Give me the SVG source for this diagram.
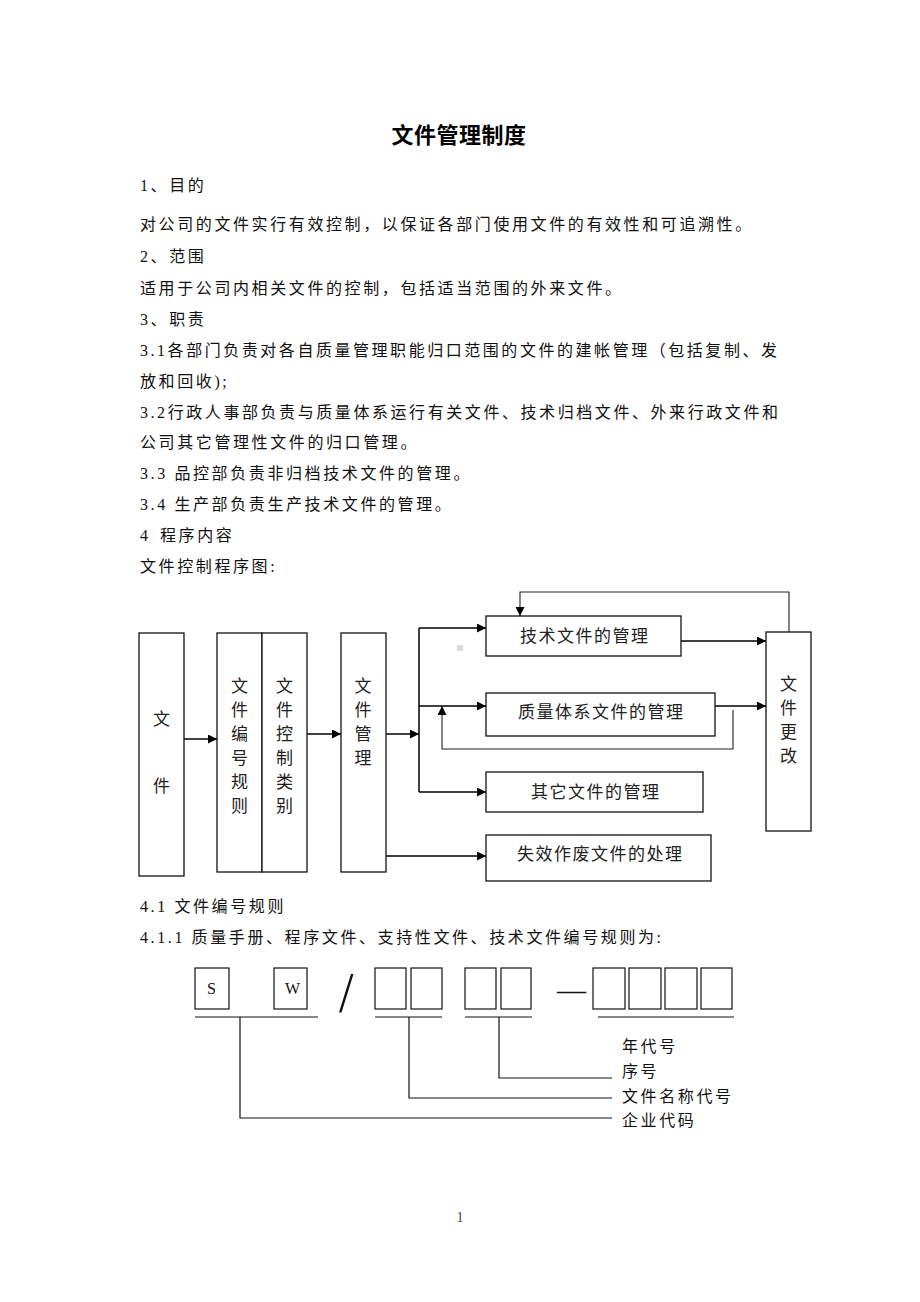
<svg xmlns="http://www.w3.org/2000/svg" width="920" height="1302" viewBox="0 0 920 1302">
<style>
.t{font-family:"Liberation Serif","Noto Sans CJK SC",serif;font-size:16px;letter-spacing:2.6px;fill:#111}
.j{font-family:"Liberation Serif","Noto Sans CJK SC",serif;font-size:16px;fill:#111}
.title{font-family:"Noto Sans CJK SC",sans-serif;font-size:22px;font-weight:bold;letter-spacing:0.5px;fill:#000}
.bt{font-family:"Noto Sans CJK SC",sans-serif;font-size:17px;letter-spacing:1.5px;fill:#222}
.vt{font-family:"Noto Sans CJK SC",sans-serif;font-size:17px;fill:#222;text-anchor:middle}
.box{fill:#fff;stroke:#111;stroke-width:1.3}
.cb{fill:none;stroke:#111;stroke-width:1.2}
.ln{fill:none;stroke:#000;stroke-width:1.5}
.th{fill:none;stroke:#222;stroke-width:1.1}
.lat{font-family:"Liberation Serif",serif;font-size:16px;fill:#111}
</style>
<defs>
<marker id="ah" viewBox="0 0 10 10" refX="10" refY="5" markerWidth="9" markerHeight="9" markerUnits="userSpaceOnUse" orient="auto">
<path d="M0,0 L10,5 L0,10 z" fill="#000"/>
</marker>
</defs>
<rect width="920" height="1302" fill="#fff"/>

<g id="text-body">
<text class="title" x="459" y="143" text-anchor="middle">文件管理制度</text>
<text class="t" x="140" y="191">1、目的</text>
<text class="t" x="140" y="230">对公司的文件实行有效控制，以保证各部门使用文件的有效性和可追溯性。</text>
<text class="t" x="140" y="262">2、范围</text>
<text class="t" x="140" y="294">适用于公司内相关文件的控制，包括适当范围的外来文件。</text>
<text class="t" x="140" y="325">3、职责</text>
<text class="j" x="140" y="356" textLength="637" lengthAdjust="spacing">3.1各部门负责对各自质量管理职能归口范围的文件的建帐管理（包括复制、发</text>
<text class="t" x="140" y="387">放和回收);</text>
<text class="j" x="140" y="418" textLength="638" lengthAdjust="spacing">3.2行政人事部负责与质量体系运行有关文件、技术归档文件、外来行政文件和</text>
<text class="t" x="140" y="448">公司其它管理性文件的归口管理。</text>
<text class="t" x="140" y="479">3.3 品控部负责非归档技术文件的管理。</text>
<text class="t" x="140" y="510">3.4 生产部负责生产技术文件的管理。</text>
<text class="t" x="140" y="541">4<tspan x="160">程序内容</tspan></text>
<text class="t" x="140" y="572">文件控制程序图:</text>
<text class="t" x="140" y="912">4.1 文件编号规则</text>
<text class="t" x="140" y="943">4.1.1 质量手册、程序文件、支持性文件、技术文件编号规则为:</text>
<text x="460" y="1222" font-family="Liberation Serif, serif" font-size="14" fill="#444" text-anchor="middle">1</text>
</g>

<g id="connectors">
<line class="ln" x1="184" y1="739" x2="217" y2="739" marker-end="url(#ah)"/>
<line class="ln" x1="307" y1="734" x2="341" y2="734" marker-end="url(#ah)"/>
<line class="ln" x1="386" y1="734" x2="419" y2="734" marker-end="url(#ah)"/>
<line class="ln" x1="419" y1="628" x2="419" y2="792"/>
<line class="ln" x1="419" y1="628" x2="486" y2="628" marker-end="url(#ah)"/>
<line class="ln" x1="419" y1="706" x2="486" y2="706" marker-end="url(#ah)"/>
<line class="ln" x1="419" y1="792" x2="486" y2="792" marker-end="url(#ah)"/>
<line class="ln" x1="386" y1="856" x2="486" y2="856" marker-end="url(#ah)"/>
<line class="ln" x1="677" y1="641" x2="766" y2="641" marker-end="url(#ah)"/>
<line class="ln" x1="710" y1="706" x2="766" y2="706" marker-end="url(#ah)"/>
<polyline class="th" points="733,710 733,749 442,749 442,706" marker-end="url(#ah)"/>
<polyline class="th" points="789,632 789,592 520,592 520,616" marker-end="url(#ah)"/>
<rect x="457" y="645" width="6" height="6" fill="#ddd"/>
</g>

<g id="node-wenjian">
<rect class="box" x="139" y="633" width="45" height="243"/>
<text class="vt" x="161.5" y="724.5">文</text>
<text class="vt" x="161.5" y="791.5">件</text>
</g>
<g id="node-bianhao">
<rect class="box" x="217" y="633" width="45" height="239"/>
<text class="vt" x="239.5"><tspan x="239.5" y="691.5">文</tspan><tspan x="239.5" y="715.5">件</tspan><tspan x="239.5" y="739.5">编</tspan><tspan x="239.5" y="763.5">号</tspan><tspan x="239.5" y="787.5">规</tspan><tspan x="239.5" y="811.5">则</tspan></text>
</g>
<g id="node-leibie">
<rect class="box" x="262" y="633" width="45" height="239"/>
<text class="vt" x="284.5"><tspan x="284.5" y="691.5">文</tspan><tspan x="284.5" y="715.5">件</tspan><tspan x="284.5" y="739.5">控</tspan><tspan x="284.5" y="763.5">制</tspan><tspan x="284.5" y="787.5">类</tspan><tspan x="284.5" y="811.5">别</tspan></text>
</g>
<g id="node-guanli">
<rect class="box" x="341" y="633" width="45" height="239"/>
<text class="vt" x="363"><tspan x="363" y="691.5">文</tspan><tspan x="363" y="715.5">件</tspan><tspan x="363" y="739.5">管</tspan><tspan x="363" y="763.5">理</tspan></text>
</g>
<g id="node-jishu">
<rect class="box" x="486" y="616" width="195" height="40"/>
<text class="bt" x="520" y="642">技术文件的管理</text>
</g>
<g id="node-zhiliang">
<rect class="box" x="486" y="693" width="229" height="43"/>
<text class="bt" x="518" y="718">质量体系文件的管理</text>
</g>
<g id="node-qita">
<rect class="box" x="486" y="772" width="217" height="40"/>
<text class="bt" x="531" y="798">其它文件的管理</text>
</g>
<g id="node-shixiao">
<rect class="box" x="486" y="835" width="225" height="46"/>
<text class="bt" x="517" y="860">失效作废文件的处理</text>
</g>
<g id="node-genggai">
<rect class="box" x="766" y="632" width="45" height="199"/>
<text class="vt" x="788.5"><tspan x="788.5" y="690">文</tspan><tspan x="788.5" y="714">件</tspan><tspan x="788.5" y="738">更</tspan><tspan x="788.5" y="762">改</tspan></text>
</g>

<g id="code-rule">
<rect class="cb" x="195" y="968" width="34" height="41"/>
<text class="lat" x="207" y="994">S</text>
<rect class="cb" x="274" y="968" width="33" height="41"/>
<text class="lat" x="285" y="994">W</text>
<text transform="translate(339,1012) scale(0.9,1)" font-family="Liberation Serif, serif" font-size="58" fill="#111">/</text>
<rect class="cb" x="375" y="968" width="31" height="41"/>
<rect class="cb" x="411" y="968" width="31" height="41"/>
<rect class="cb" x="465" y="968" width="31" height="41"/>
<rect class="cb" x="501" y="968" width="30" height="41"/>
<text x="557" y="1000" font-family="Liberation Serif, serif" font-size="29" fill="#111">—</text>
<rect class="cb" x="593" y="968" width="32" height="41"/>
<rect class="cb" x="629" y="968" width="32" height="41"/>
<rect class="cb" x="665" y="968" width="32" height="41"/>
<rect class="cb" x="701" y="968" width="31" height="41"/>
<line class="cb" x1="195" y1="1017" x2="318" y2="1017"/>
<line class="cb" x1="375" y1="1017" x2="442" y2="1017"/>
<line class="cb" x1="465" y1="1017" x2="532" y2="1017"/>
<line class="cb" x1="598" y1="1017" x2="734" y2="1017"/>
<polyline class="cb" points="240,1017 240,1118 612,1118"/>
<polyline class="cb" points="409,1017 409,1098 612,1098"/>
<polyline class="cb" points="499,1017 499,1078 612,1078"/>
<text class="t" x="622" y="1052">年代号</text>
<text class="t" x="622" y="1077">序号</text>
<text class="t" x="622" y="1102">文件名称代号</text>
<text class="t" x="622" y="1126">企业代码</text>
</g>
</svg>
